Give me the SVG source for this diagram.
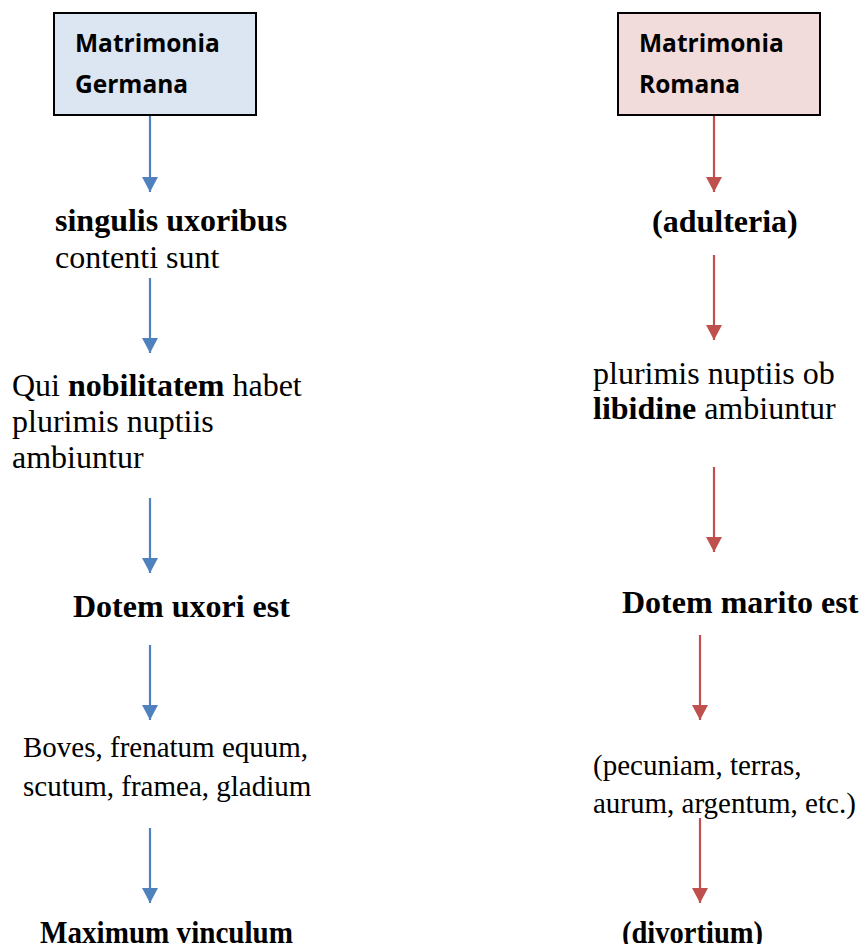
<svg xmlns="http://www.w3.org/2000/svg" width="862" height="944" viewBox="0 0 862 944">
<style>
.box{stroke:#000;stroke-width:2}
.hd{font-family:"Open Sans","Liberation Sans",sans-serif;font-weight:700;font-size:24.5px;fill:#000}
.t{font-family:"Liberation Serif","Times New Roman",serif;font-size:32px;fill:#000}
.s{font-size:29px}
.b{font-weight:700}
.cb{stroke:#4f81bd;stroke-width:2.2;fill:none}
.cr{stroke:#c0504d;stroke-width:2.2;fill:none}
</style>
<defs>
<marker id="ab" markerUnits="userSpaceOnUse" markerWidth="18" markerHeight="16" refX="15" refY="8" orient="auto">
<path d="M0,0 L15,8 L0,16 Z" fill="#4f81bd"/>
</marker>
<marker id="ar" markerUnits="userSpaceOnUse" markerWidth="18" markerHeight="16" refX="15" refY="8" orient="auto">
<path d="M0,0 L15,8 L0,16 Z" fill="#c0504d"/>
</marker>
</defs>
<rect width="862" height="944" fill="#fff"/>
<g id="n-germana">
<rect class="box" x="54" y="13" width="202" height="102" fill="#dce6f2"/>
<text class="hd" x="75" y="52">Matrimonia</text>
<text class="hd" x="75" y="93">Germana</text>
</g>
<g id="n-romana">
<rect class="box" x="618" y="13" width="202" height="102" fill="#f2dcdb"/>
<text class="hd" x="639" y="52">Matrimonia</text>
<text class="hd" x="639" y="93">Romana</text>
</g>
<g id="n-singulis">
<text class="t b" x="55" y="231">singulis uxoribus</text>
<text class="t" x="55" y="268">contenti sunt</text>
</g>
<g id="n-nobilitatem">
<text class="t" x="12" y="396">Qui <tspan class="b">nobilitatem</tspan> habet</text>
<text class="t" x="12" y="432">plurimis nuptiis</text>
<text class="t" x="12" y="468">ambiuntur</text>
</g>
<g id="n-dotem-uxori">
<text class="t b" x="73" y="617">Dotem uxori est</text>
</g>
<g id="n-boves">
<text class="t s" x="23" y="757">Boves, frenatum equum,</text>
<text class="t s" x="23" y="796">scutum, framea, gladium</text>
</g>
<g id="n-maximum">
<text class="t b" x="40" y="943" textLength="253" lengthAdjust="spacingAndGlyphs">Maximum vinculum</text>
</g>
<g id="n-adulteria">
<text class="t b" x="652" y="232">(adulteria)</text>
</g>
<g id="n-libidine">
<text class="t" x="593" y="384">plurimis nuptiis ob</text>
<text class="t" x="593" y="419"><tspan class="b">libidine</tspan> ambiuntur</text>
</g>
<g id="n-dotem-marito">
<text class="t b" x="622" y="613">Dotem marito est</text>
</g>
<g id="n-pecuniam">
<text class="t s" x="593" y="775">(pecuniam, terras,</text>
<text class="t s" x="593" y="813">aurum, argentum, etc.)</text>
</g>
<g id="n-divortium">
<text class="t b" x="622" y="943" textLength="141" lengthAdjust="spacingAndGlyphs">(divortium)</text>
</g>
<g id="connectors">
<line class="cb" x1="150" y1="116" x2="150" y2="192" marker-end="url(#ab)"/>
<line class="cb" x1="150" y1="278" x2="150" y2="353" marker-end="url(#ab)"/>
<line class="cb" x1="150" y1="498" x2="150" y2="573" marker-end="url(#ab)"/>
<line class="cb" x1="150" y1="645" x2="150" y2="720" marker-end="url(#ab)"/>
<line class="cb" x1="150" y1="828" x2="150" y2="903" marker-end="url(#ab)"/>
<line class="cr" x1="714" y1="116" x2="714" y2="192" marker-end="url(#ar)"/>
<line class="cr" x1="714" y1="255" x2="714" y2="340" marker-end="url(#ar)"/>
<line class="cr" x1="714" y1="467" x2="714" y2="552" marker-end="url(#ar)"/>
<line class="cr" x1="700" y1="635" x2="700" y2="720" marker-end="url(#ar)"/>
<line class="cr" x1="700" y1="818" x2="700" y2="903" marker-end="url(#ar)"/>
</g>
</svg>
